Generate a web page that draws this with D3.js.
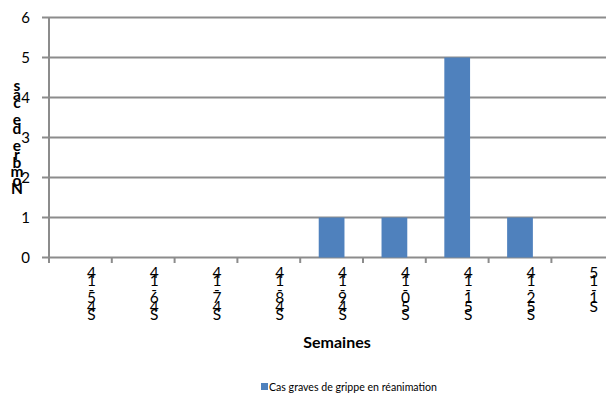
<!DOCTYPE html>
<html><head><meta charset="utf-8">
<script src="https://cdn.jsdelivr.net/npm/d3@7"></script>
<style>body{margin:0;background:#fff}svg{display:block}</style>
</head><body>
<script>
const categories = ["S45-14","S46-14","S47-14","S48-14","S49-14","S50-14","S51-14","S52-14","S1-15"];
const values = [0,0,0,0,1,1,5,1,0];
const yTicks = [0,1,2,3,4,5,6];
const seriesName = "Cas graves de grippe en réanimation";
const yTitle = "Nombre de cas";
const xTitle = "Semaines";

const W=606,H=394;
const svg=d3.select("body").append("svg").attr("width",W).attr("height",H);
const font="Lato, 'Open Sans', sans-serif";
const gray="#8c8c8c", blue="#4f81bd";
const x0=49, step=62.8;
const x=d3.scaleBand().domain(categories).range([x0,x0+step*categories.length]).padding(0);
const y=d3.scaleLinear().domain([0,6]).range([257.5,17.5]);

// gridlines
svg.append("g").selectAll("line").data(yTicks).join("line")
 .attr("x1",42).attr("x2",W).attr("y1",d=>y(d)).attr("y2",d=>y(d))
 .attr("stroke",gray).attr("stroke-width",2);
// y axis line
svg.append("line").attr("x1",x0).attr("x2",x0).attr("y1",y(6)).attr("y2",263)
 .attr("stroke",gray).attr("stroke-width",2);
// x ticks
svg.append("g").selectAll("line").data(categories.slice(1)).join("line")
 .attr("x1",d=>x(d)).attr("x2",d=>x(d)).attr("y1",y(0)).attr("y2",263)
 .attr("stroke",gray).attr("stroke-width",2);
// y tick labels
svg.append("g").selectAll("text").data(yTicks).join("text")
 .attr("x",30).attr("y",d=>y(d)).attr("dy","0.35em").attr("text-anchor","end")
 .attr("font-family",font).attr("font-size",15).attr("fill","#000").text(d=>d);
// bars
const bw=x.bandwidth()*0.41;
svg.append("g").selectAll("rect").data(values.map((v,i)=>({c:categories[i],v})).filter(d=>d.v>0)).join("rect")
 .attr("x",d=>x(d.c)+x.bandwidth()/2-bw/2).attr("width",bw)
 .attr("y",d=>y(d.v)).attr("height",d=>y(0)-y(d.v)).attr("fill",blue);

// x labels: stacked upright chars, reading bottom-to-top
const pitch=8.4;
categories.forEach(c=>{
  const chars=c.split("").reverse();
  const g=svg.append("g");
  chars.forEach((ch,i)=>{
    g.append("text").attr("x",x(c)+x.bandwidth()/2+11).attr("y",278+i*pitch)
     .attr("text-anchor","middle").attr("font-family",font).attr("font-size",15.5)
     .attr("fill","#000").text(ch);
  });
});
// y title stacked
const yt=yTitle.split("").reverse();
yt.forEach((ch,i)=>{
  svg.append("text").attr("x",17).attr("y",91+i*8.6).attr("text-anchor","middle")
   .attr("font-family",font).attr("font-weight","bold").attr("font-size",15.5)
   .attr("fill","#000").text(ch);
});
// x title
svg.append("text").attr("x",337).attr("y",348).attr("text-anchor","middle")
 .attr("font-family",font).attr("font-weight","bold").attr("font-size",16)
 .attr("fill","#000").text(xTitle);
// legend
svg.append("rect").attr("x",261).attr("y",383).attr("width",7).attr("height",7).attr("fill",blue);
svg.append("text").attr("x",269).attr("y",391).attr("font-family",font).attr("font-size",12)
 .attr("textLength",168).attr("lengthAdjust","spacingAndGlyphs").attr("fill","#000").text(seriesName);
</script>
</body></html>
